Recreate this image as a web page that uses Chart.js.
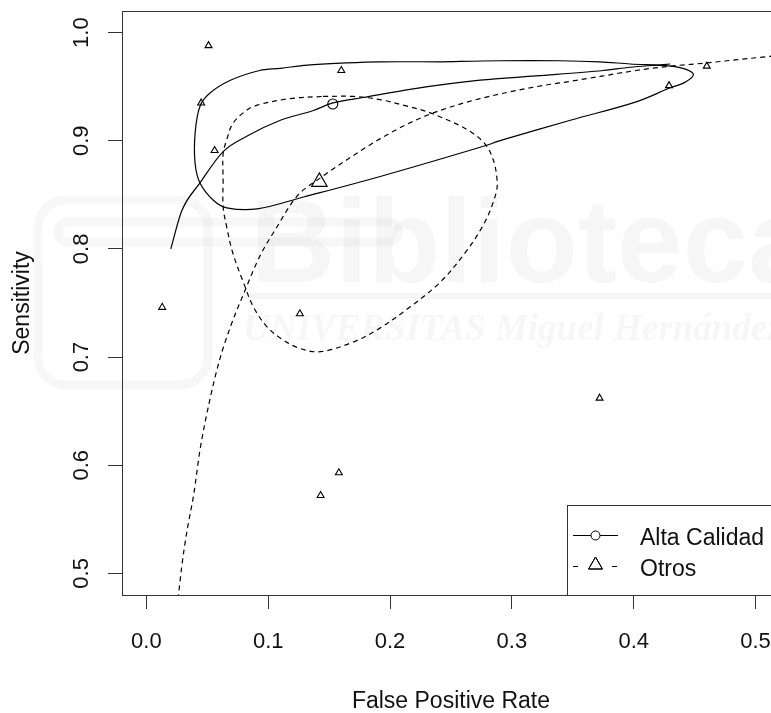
<!DOCTYPE html>
<html lang="es">
<head>
<meta charset="UTF-8">
<title>SROC - Alta Calidad vs Otros</title>
<script src="https://cdn.jsdelivr.net/npm/chart.js"></script>
<style>
  html, body { margin: 0; padding: 0; background: #fff; overflow: hidden; }
  #wrap { width: 790px; height: 713px; }
</style>
</head>
<body>
<div id="wrap"><canvas id="sroc" width="790" height="713"></canvas></div>
<script>
// ---- data ----
const seriesLabels = ['Alta Calidad', 'Otros'];
const xTicks = [0, 0.1, 0.2, 0.3, 0.4, 0.5];
const yTicks = [0.5, 0.6, 0.7, 0.8, 0.9, 1.0];

// individual studies (false positive rate, sensitivity)
const studyFpr  = [0.051, 0.160, 0.045, 0.056, 0.429, 0.460, 0.013, 0.126, 0.158, 0.143, 0.372];
const studySens = [0.988, 0.965, 0.935, 0.891, 0.951, 0.969, 0.746, 0.740, 0.593, 0.572, 0.662];

// summary points
const sumAltaFpr = [0.153];  const sumAltaSens = [0.934];
const sumOtrosFpr = [0.142]; const sumOtrosSens = [0.862];

// SROC curves
const srocAltaFpr  = [0.020, 0.029, 0.044, 0.063, 0.082, 0.110, 0.137, 0.153, 0.178, 0.219, 0.274, 0.320, 0.375, 0.397, 0.419, 0.430];
const srocAltaSens = [0.800, 0.835, 0.861, 0.890, 0.904, 0.919, 0.928, 0.935, 0.940, 0.948, 0.956, 0.960, 0.965, 0.968, 0.970, 0.971];

const srocOtrosFpr  = [0.026, 0.029, 0.033, 0.039, 0.044, 0.052, 0.060, 0.069, 0.080, 0.093, 0.107, 0.123, 0.142, 0.164, 0.192, 0.219, 0.241, 0.274, 0.320, 0.348, 0.375, 0.402, 0.430, 0.460, 0.485, 0.520];
const srocOtrosSens = [0.476, 0.506, 0.537, 0.574, 0.614, 0.660, 0.697, 0.728, 0.759, 0.793, 0.820, 0.848, 0.865, 0.882, 0.902, 0.918, 0.928, 0.939, 0.950, 0.955, 0.960, 0.965, 0.969, 0.972, 0.975, 0.979];

// confidence regions
const ellAltaFpr  = [0.241, 0.290, 0.339, 0.372, 0.397, 0.430, 0.443, 0.449, 0.442, 0.430, 0.402, 0.348, 0.293, 0.274, 0.192, 0.129, 0.091, 0.066, 0.055, 0.044, 0.040, 0.040, 0.044, 0.052, 0.069, 0.093, 0.110, 0.132, 0.164, 0.192, 0.241];
const ellAltaSens = [0.973, 0.974, 0.974, 0.973, 0.971, 0.969, 0.966, 0.961, 0.954, 0.949, 0.936, 0.919, 0.901, 0.894, 0.867, 0.848, 0.837, 0.838, 0.845, 0.861, 0.879, 0.907, 0.932, 0.944, 0.956, 0.965, 0.967, 0.970, 0.972, 0.973, 0.973];

const ellOtrosFpr  = [0.145, 0.170, 0.192, 0.214, 0.235, 0.268, 0.282, 0.288, 0.284, 0.276, 0.262, 0.241, 0.216, 0.192, 0.170, 0.143, 0.126, 0.112, 0.099, 0.088, 0.080, 0.071, 0.066, 0.063, 0.063, 0.063, 0.066, 0.071, 0.082, 0.091, 0.118, 0.145];
const ellOtrosSens = [0.941, 0.941, 0.938, 0.932, 0.925, 0.907, 0.890, 0.861, 0.841, 0.821, 0.797, 0.769, 0.746, 0.727, 0.714, 0.705, 0.708, 0.716, 0.728, 0.746, 0.768, 0.796, 0.820, 0.839, 0.864, 0.888, 0.901, 0.916, 0.928, 0.933, 0.939, 0.941];

const pts = (xs, ys) => xs.map((x, i) => ({ x: x, y: ys[i] }));

const FONT = '"Liberation Sans", Arial, sans-serif';
const INK = '#111';
const AXIS = '#333';

// frame, labels, titles and legend drawn like the R plot
const rPlotDecor = {
  id: 'rPlotDecor',
  beforeDatasetsDraw(chart) {
    const ctx = chart.ctx;
    ctx.save();
    // very faint library watermark behind the plot
    ctx.fillStyle = 'rgba(0,0,0,0.035)';
    ctx.font = 'bold 118px ' + FONT;
    ctx.fillText('Biblioteca', 250, 282);
    ctx.fillRect(240, 293, 560, 6);
    ctx.font = 'italic bold 37px "Liberation Serif", serif';
    ctx.fillText('UNIVERSITAS Miguel Hernández', 243, 340);
    ctx.strokeStyle = 'rgba(0,0,0,0.03)';
    ctx.lineWidth = 9;
    ctx.beginPath();
    ctx.roundRect(38, 200, 170, 185, 28);
    ctx.stroke();
    ctx.beginPath();
    ctx.roundRect(58, 222, 340, 20, 10);
    ctx.stroke();
    ctx.restore();
  },
  afterDraw(chart) {
    const ctx = chart.ctx;
    const a = chart.chartArea;
    const xs = chart.scales.x, ys = chart.scales.y;
    ctx.save();
    // box around plot
    ctx.strokeStyle = AXIS;
    ctx.lineWidth = 1;
    ctx.strokeRect(Math.round(a.left) + 0.5, Math.round(a.top) + 0.5,
                   Math.round(a.right - a.left), Math.round(a.bottom - a.top));

    ctx.fillStyle = INK;
    ctx.font = '22px ' + FONT;
    ctx.textAlign = 'center';
    ctx.textBaseline = 'alphabetic';
    xs.ticks.forEach(t => {
      ctx.fillText(t.value.toFixed(1), xs.getPixelForValue(t.value), 648);
    });
    ys.ticks.forEach(t => {
      ctx.save();
      ctx.translate(88, ys.getPixelForValue(t.value));
      ctx.rotate(-Math.PI / 2);
      ctx.fillText(t.value.toFixed(1), 0, 0);
      ctx.restore();
    });

    ctx.font = '23px ' + FONT;
    ctx.fillText('False Positive Rate', (a.left + a.right) / 2, 708);
    ctx.save();
    ctx.translate(29, (a.top + a.bottom) / 2);
    ctx.rotate(-Math.PI / 2);
    ctx.fillText('Sensitivity', 0, 0);
    ctx.restore();

    // legend box in the lower right corner
    const lx = 567, ly = 505;
    ctx.fillStyle = '#fff';
    ctx.fillRect(lx, ly, a.right - lx, a.bottom - ly);
    ctx.strokeStyle = AXIS;
    ctx.strokeRect(lx + 0.5, ly + 0.5, a.right - lx, a.bottom - ly);

    ctx.strokeStyle = '#000';
    ctx.lineWidth = 1;
    ctx.beginPath();
    ctx.moveTo(573, 535.5); ctx.lineTo(618, 535.5);
    ctx.stroke();
    ctx.beginPath();
    ctx.arc(595.5, 535.5, 4.5, 0, Math.PI * 2);
    ctx.fillStyle = '#fff';
    ctx.fill();
    ctx.stroke();

    ctx.beginPath();
    ctx.moveTo(573, 566.5); ctx.lineTo(578, 566.5);
    ctx.moveTo(591, 566.5); ctx.lineTo(600, 566.5);
    ctx.moveTo(612, 566.5); ctx.lineTo(617, 566.5);
    ctx.stroke();
    Chart.helpers.drawPoint(ctx, { pointStyle: 'triangle', radius: 8, borderWidth: 1 }, 595.5, 565);
    ctx.stroke();

    ctx.fillStyle = INK;
    ctx.font = '23px ' + FONT;
    ctx.textAlign = 'left';
    ctx.fillText(seriesLabels[0], 640, 545);
    ctx.fillText(seriesLabels[1], 640, 576);
    ctx.restore();
  }
};

const curve = (label, data, dash, smooth) => ({
  label: label,
  data: data,
  showLine: true,
  borderColor: '#000',
  borderWidth: 1.2,
  borderDash: dash,
  pointRadius: 0,
  tension: smooth ? 0 : 0.35,
  cubicInterpolationMode: smooth ? 'monotone' : 'default',
  fill: false
});

const marker = (label, data, style, r) => ({
  label: label,
  data: data,
  showLine: false,
  pointStyle: style,
  pointRadius: r,
  pointBorderColor: '#000',
  pointBackgroundColor: 'rgba(0,0,0,0)',
  pointBorderWidth: 1.1
});

new Chart(document.getElementById('sroc'), {
  type: 'scatter',
  data: {
    datasets: [
      curve(seriesLabels[0] + ' SROC', pts(srocAltaFpr, srocAltaSens), [], true),
      curve(seriesLabels[1] + ' SROC', pts(srocOtrosFpr, srocOtrosSens), [5, 4], true),
      curve(seriesLabels[0] + ' region', pts(ellAltaFpr, ellAltaSens), [], false),
      curve(seriesLabels[1] + ' region', pts(ellOtrosFpr, ellOtrosSens), [5, 4], false),
      marker('Estudios', pts(studyFpr, studySens), 'triangle', 4),
      marker(seriesLabels[0], pts(sumAltaFpr, sumAltaSens), 'circle', 5),
      marker(seriesLabels[1], pts(sumOtrosFpr, sumOtrosSens), 'triangle', 9)
    ]
  },
  options: {
    responsive: false,
    animation: false,
    devicePixelRatio: 1,
    events: [],
    layout: { padding: { top: 11, right: 10, left: 0, bottom: 0 } },
    plugins: { legend: { display: false }, tooltip: { enabled: false } },
    scales: {
      x: {
        type: 'linear', min: -0.02, max: 0.52,
        afterBuildTicks: s => { s.ticks = xTicks.map(v => ({ value: v })); },
        afterFit: s => { s.height = 118; },
        ticks: { display: false },
        grid: { drawOnChartArea: false, drawTicks: true, tickLength: 14, color: AXIS, lineWidth: 1 },
        border: { display: true, color: AXIS, width: 1 }
      },
      y: {
        type: 'linear', min: 0.48, max: 1.02,
        afterBuildTicks: s => { s.ticks = yTicks.map(v => ({ value: v })); },
        afterFit: s => { s.width = 122; },
        ticks: { display: false },
        grid: { drawOnChartArea: false, drawTicks: true, tickLength: 14, color: AXIS, lineWidth: 1 },
        border: { display: true, color: AXIS, width: 1 }
      }
    }
  },
  plugins: [rPlotDecor]
});
</script>
</body>
</html>
